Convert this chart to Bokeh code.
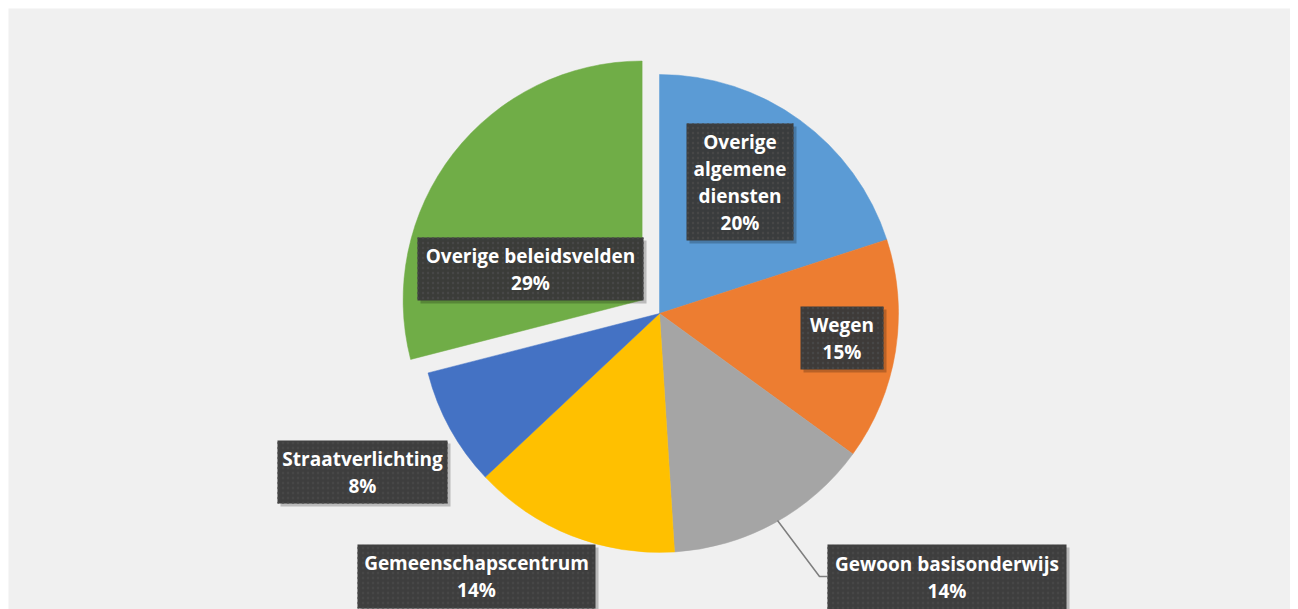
from bokeh.plotting import figure
from bokeh.models import ColumnDataSource
from bokeh.core.properties import value
from bokeh.embed import file_html
from bokeh.resources import INLINE
import numpy as np

# ---- data ----
categories = ["Overige algemene diensten", "Wegen", "Gewoon basisonderwijs",
              "Gemeenschapscentrum", "Straatverlichting", "Overige beleidsvelden"]
shares = [20, 15, 14, 14, 8, 29]
colors = ["#5B9BD5", "#ED7D31", "#A5A5A5", "#FFC000", "#4472C4", "#70AD47"]
label_lines = [["Overige", "algemene", "diensten"], ["Wegen"], ["Gewoon basisonderwijs"],
               ["Gemeenschapscentrum"], ["Straatverlichting"], ["Overige beleidsvelden"]]
explode = [0, 0, 0, 0, 0, 22]

# ---- layout (screen px of reference) ----
FW, FH = 1282, 601   # frame size
def X(sx): return sx - 8
def Y(sy): return 609 - sy

cx, cy, R = X(659), Y(313), 239
# label boxes: left, top, right, bottom (screen px)
boxes = [(686, 123, 793, 240), (800, 306, 883, 369), (827, 544, 1066, 609),
         (357, 544, 595, 608), (277, 440, 447, 503), (417, 237, 643, 300)]
line_gap = 27

p = figure(width=FW + 8, height=FH + 8, x_range=(0, FW), y_range=(0, FH),
           output_backend="svg", toolbar_location=None,
           min_border_left=8, min_border_top=8, min_border_right=0, min_border_bottom=0)
p.axis.visible = False
p.grid.visible = False
p.outline_line_color = None
p.background_fill_color = "#f0f0f0"
p.border_fill_color = "white"

vals = np.array(shares, dtype=float)
frac = vals / vals.sum()
ends = np.cumsum(frac) * 2 * np.pi
starts = ends - frac * 2 * np.pi
# clockwise from 12 o'clock
start_ang = np.pi / 2 - starts
end_ang = np.pi / 2 - ends
mid = np.pi / 2 - (starts + ends) / 2
xs = cx + np.array(explode) * np.cos(mid)
ys = cy + np.array(explode) * np.sin(mid)

src = ColumnDataSource(dict(x=xs, y=ys, s=start_ang, e=end_ang, c=colors, cat=categories, v=shares))
p.wedge(x="x", y="y", radius=R, start_angle="s", end_angle="e", direction="clock",
        fill_color="c", line_color="c", line_width=0.5, source=src)

# leader line for the grey slice
p.line([X(777), X(819), X(827)], [Y(520), Y(576), Y(576)], line_color="#7f7f7f", line_width=1.5)

# label boxes
l = [X(b[0]) for b in boxes]; r = [X(b[2]) for b in boxes]
t = [Y(b[1]) for b in boxes]; b_ = [Y(b[3]) for b in boxes]
p.quad(left=[v + 3 for v in l], right=[v + 3 for v in r], top=[v - 3 for v in t], bottom=[v - 3 for v in b_],
       fill_color="black", fill_alpha=0.22, line_color=None)
p.quad(left=l, right=r, top=t, bottom=b_, fill_color="#3a3a3a", fill_alpha=0.97, line_color=None,
       hatch_pattern="dot", hatch_color="#474747", hatch_scale=5, hatch_weight=1.0)

tx, ty, tt = [], [], []
for i, (lines, v) in enumerate(zip(label_lines, shares)):
    allines = lines + [f"{v}%"]
    bx = (boxes[i][0] + boxes[i][2]) / 2
    by = (boxes[i][1] + boxes[i][3]) / 2
    n = len(allines)
    for k, s in enumerate(allines):
        sy = by + (k - (n - 1) / 2) * line_gap
        tx.append(X(bx)); ty.append(Y(sy)); tt.append(s)
p.text(x=tx, y=ty, text=tt, text_color="white", text_font=value("Open Sans"),
       text_font_style="bold", text_font_size="19px", text_align="center", text_baseline="middle")

open("out.html", "w").write(file_html(p, INLINE))
